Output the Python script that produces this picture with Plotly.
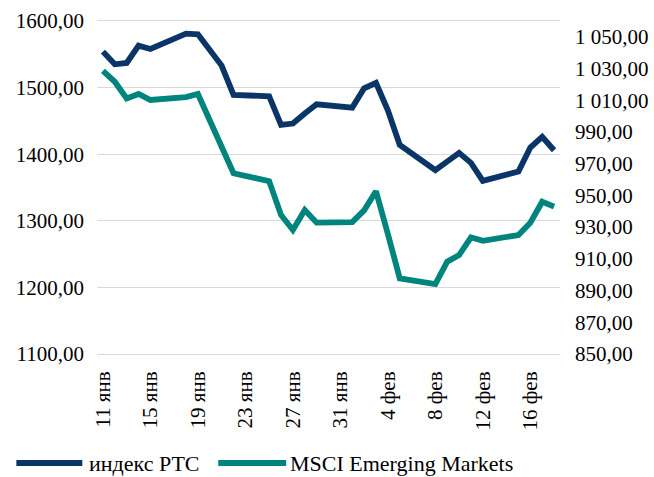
import plotly.graph_objects as go

dates = [
    "2010-01-11", "2010-01-12", "2010-01-13", "2010-01-14", "2010-01-15",
    "2010-01-18", "2010-01-19", "2010-01-20", "2010-01-21", "2010-01-22",
    "2010-01-25", "2010-01-26", "2010-01-27", "2010-01-28", "2010-01-29",
    "2010-02-01", "2010-02-02", "2010-02-03", "2010-02-04", "2010-02-05",
    "2010-02-08", "2010-02-09", "2010-02-10", "2010-02-11", "2010-02-12",
    "2010-02-15", "2010-02-16", "2010-02-17", "2010-02-18",
]

rts = [
    1554, 1535, 1537, 1563, 1558,
    1581, 1580, 1556, 1533, 1489,
    1487, 1444, 1446, 1461, 1475,
    1470, 1499, 1507, 1466, 1414,
    1376, 1389, 1402, 1387, 1360,
    1374, 1410, 1426, 1406,
]

msci = [
    1028.5, 1021.7, 1011.2, 1014.0, 1010.2,
    1012.0, 1014.0, 997.6, 981.5, 964.0,
    959.0, 937.7, 928.2, 940.8, 932.8,
    933.2, 940.6, 952.6, 925.7, 897.7,
    894.1, 908.2, 912.4, 923.6, 921.4,
    925.0, 932.8, 946.0, 942.9,
]

tick_dates = [
    "2010-01-11", "2010-01-15", "2010-01-19", "2010-01-23", "2010-01-27",
    "2010-01-31", "2010-02-04", "2010-02-08", "2010-02-12", "2010-02-16",
]
tick_labels = [
    "11 янв", "15 янв", "19 янв", "23 янв", "27 янв",
    "31 янв", "4 фев", "8 фев", "12 фев", "16 фев",
]

series_names = ["индекс РТС", "MSCI Emerging Markets"]

NAVY = "#0b3566"
TEAL = "#00847e"
FONT = "Liberation Serif"
GRID = "#d9d9d9"

fig = go.Figure()
fig.add_trace(go.Scatter(x=dates, y=rts, mode="lines", name=series_names[0],
                         line=dict(color=NAVY, width=5.8), yaxis="y",
                         showlegend=False))
fig.add_trace(go.Scatter(x=dates, y=msci, mode="lines", name=series_names[1],
                         line=dict(color=TEAL, width=5.8), yaxis="y2",
                         showlegend=False))

# custom legend (long swatches like the reference)
L, W, T, H = 96.7, 463.3, 21, 333
def px(xp):
    return (xp - L) / W
def py(yp):
    return (T + H - yp) / H

legend_y = py(463)
swatches = [(16, 82, 87, NAVY), (218, 286, 288, TEAL)]
for (x0, x1, xt, col), name in zip(swatches, series_names):
    fig.add_shape(type="line", xref="paper", yref="paper",
                  x0=px(x0), x1=px(x1), y0=legend_y, y1=legend_y,
                  line=dict(color=col, width=5.8))
    fig.add_annotation(xref="paper", yref="paper", x=px(xt), y=legend_y,
                       text=name, showarrow=False, xanchor="left",
                       yanchor="middle",
                       font=dict(family=FONT, size=22, color="#000000"))

fig.update_layout(
    width=654, height=477,
    margin=dict(l=L, r=654 - L - W, t=T, b=477 - T - H, autoexpand=False),
    paper_bgcolor="white", plot_bgcolor="white",
    separators=", ",
    font=dict(family=FONT, size=20, color="#000000"),
    showlegend=False,
    xaxis=dict(
        type="date",
        range=["2010-01-10 12:00", "2010-02-18 12:00"],
        tickvals=tick_dates, ticktext=tick_labels,
        tickangle=-90, showgrid=False, zeroline=False,
        showline=True, linecolor=GRID, linewidth=1, mirror=True,
        ticks="", ticklabelstandoff=8, automargin=False,
        tickfont=dict(family=FONT, size=21, color="#000000"),
    ),
    yaxis=dict(
        range=[1100, 1600], dtick=100, tick0=1100, tickformat=".2f",
        showgrid=True, gridcolor=GRID, gridwidth=1,
        zeroline=False, showline=False, ticks="", ticklabelstandoff=12,
        automargin=False,
        tickfont=dict(family=FONT, size=21, color="#000000"),
    ),
    yaxis2=dict(
        range=[850, 1060], dtick=20, tick0=850, tickformat=",.2f",
        overlaying="y", side="right", showgrid=False, zeroline=False,
        showline=False, ticks="", ticklabelstandoff=14, automargin=False,
        tickfont=dict(family=FONT, size=21, color="#000000"),
    ),
)

fig.write_html("out.html",
               config={"displayModeBar": False},
               post_script="document.body.style.margin='0';document.body.style.overflow='hidden';")
